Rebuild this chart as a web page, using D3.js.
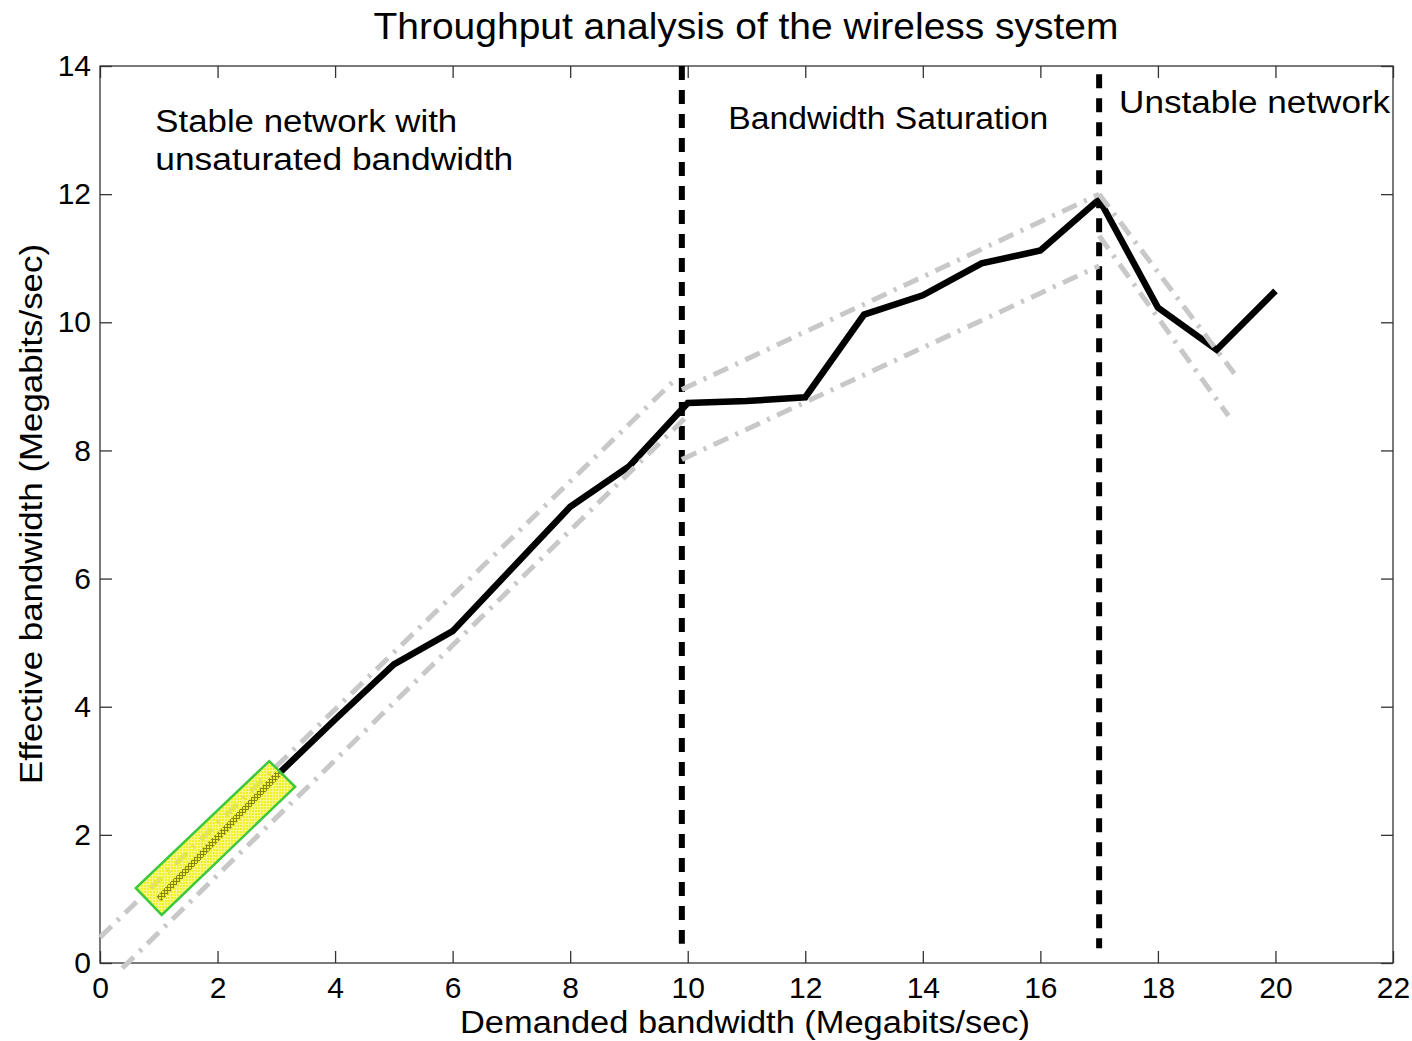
<!DOCTYPE html>
<html>
<head>
<meta charset="utf-8">
<script src="https://cdn.jsdelivr.net/npm/d3@7"></script>
<style>
  body { margin: 0; background: #fff; }
  text { font-family: "Liberation Sans", Arial, Helvetica, sans-serif; fill: #000; }
  .axis path.domain { display: none; }
  .axis line { stroke: #333; stroke-width: 1.3; }
</style>
</head>
<body>
<div id="app"></div>
<script>
// measured throughput (demanded vs effective, Mbit/s)
var demanded = [1, 2, 3, 4, 5, 6, 7, 8, 9, 10, 11, 12, 13, 14, 15, 16, 17, 18, 19, 20];
var effective = [1.0, 1.96, 2.92, 3.8, 4.66, 5.18, 6.15, 7.12, 7.75, 8.74,
                 8.77, 8.83, 10.12, 10.42, 10.92, 11.12, 11.92, 10.23, 9.57, 10.49];

// grey dash-dot envelope, one [x, y] pair list per segment
var upperBound = [
    [[0, 0.4], [9.78, 9.1]],
    [[9.9, 8.95], [17.0, 12.0]],
    [[17.0, 12.0], [19.3, 9.2]]
];
var lowerBound = [
    [[0.38, -0.08], [9.95, 8.5]],
    [[9.9, 7.86], [17.0, 10.88]],
    [[17.0, 11.35], [19.2, 8.54]]
];

// region separators
var separators = [
    {x: 9.9, y0: 0.3, y1: 14},
    {x: 17.0, y0: 0.23, y1: 13.87}
];

// highlighted start of the curve (corners in data units)
var highlight = [[0.61, 1.17], [1.05, 0.75], [3.32, 2.75], [2.88, 3.15]];

var xTicks = [0, 2, 4, 6, 8, 10, 12, 14, 16, 18, 20, 22];
var yTicks = [0, 2, 4, 6, 8, 10, 12, 14];

var regionLabels = [
    {x: 0.94, y: 12.97, text: "Stable network with", len: 302},
    {x: 0.94, y: 12.38, text: "unsaturated bandwidth", len: 358},
    {x: 10.69, y: 13.02, text: "Bandwidth Saturation", len: 320},
    {x: 17.34, y: 13.26, text: "Unstable network", len: 271}
];

var width = 1412,
    height = 1041;

var svg = d3.select("#app").append("svg")
    .attr("width", width)
    .attr("height", height);

var x = d3.scaleLinear().domain([0, 22]).range([100, 1393]);
var y = d3.scaleLinear().domain([0, 14]).range([963, 66]);

// crosshatched yellow for the highlight box: solid cells on a see-through grid
var defs = svg.append("defs");
var hatch = defs.append("pattern")
    .attr("id", "hatch")
    .attr("patternUnits", "userSpaceOnUse")
    .attr("width", 3)
    .attr("height", 3);
hatch.append("rect")
    .attr("width", 3)
    .attr("height", 3)
    .attr("fill", "#f0f028")
    .attr("fill-opacity", 0.55);
hatch.append("rect")
    .attr("width", 2)
    .attr("height", 2)
    .attr("fill", "#f0f028");

// axes (ticks point inward on all four sides)
svg.append("g")
    .attr("class", "axis")
    .attr("transform", "translate(0," + y(0) + ")")
    .call(d3.axisBottom(x).tickValues(xTicks).tickSizeInner(-12).tickSizeOuter(0).tickPadding(14));

svg.append("g")
    .attr("class", "axis")
    .attr("transform", "translate(0," + y(14) + ")")
    .call(d3.axisTop(x).tickValues(xTicks).tickSizeInner(-12).tickSizeOuter(0).tickFormat(""));

svg.append("g")
    .attr("class", "axis")
    .attr("transform", "translate(" + x(0) + ",0)")
    .call(d3.axisLeft(y).tickValues(yTicks).tickSizeInner(-12).tickSizeOuter(0).tickPadding(9));

svg.append("g")
    .attr("class", "axis")
    .attr("transform", "translate(" + x(22) + ",0)")
    .call(d3.axisRight(y).tickValues(yTicks).tickSizeInner(-12).tickSizeOuter(0).tickFormat(""));

svg.selectAll(".axis text")
    .style("font-size", "30px")
    .style("font-family", "'Liberation Sans', Arial, sans-serif")
    .attr("fill", "#000");

svg.append("rect")
    .attr("x", x(0))
    .attr("y", y(14))
    .attr("width", x(22) - x(0))
    .attr("height", y(0) - y(14))
    .attr("fill", "none")
    .attr("stroke", "#333")
    .attr("stroke-width", 1.3);

var line = d3.line()
    .x(function(d) { return x(d[0]); })
    .y(function(d) { return y(d[1]); });

// main curve
svg.append("path")
    .datum(d3.zip(demanded, effective))
    .attr("d", line)
    .attr("fill", "none")
    .attr("stroke", "#000")
    .attr("stroke-width", 6.5);

// separators
svg.selectAll(".sep")
    .data(separators)
    .enter().append("line")
    .attr("class", "sep")
    .attr("x1", function(d) { return x(d.x); })
    .attr("x2", function(d) { return x(d.x); })
    .attr("y1", function(d) { return y(d.y1); })
    .attr("y2", function(d) { return y(d.y0); })
    .attr("stroke", "#000")
    .attr("stroke-width", 6)
    .attr("stroke-dasharray", "14,10");

// envelope
svg.selectAll(".bound")
    .data(upperBound.concat(lowerBound))
    .enter().append("path")
    .attr("class", "bound")
    .attr("d", line)
    .attr("fill", "none")
    .attr("stroke", "#c8c8c8")
    .attr("stroke-width", 5)
    .attr("stroke-dasharray", "16,8,3,8");

// highlight box
svg.append("polygon")
    .attr("points", highlight.map(function(d) { return x(d[0]) + "," + y(d[1]); }).join(" "))
    .attr("fill", "url(#hatch)")
    .attr("stroke", "#3cc83c")
    .attr("stroke-width", 2.5);

// texts
svg.selectAll(".region")
    .data(regionLabels)
    .enter().append("text")
    .attr("class", "region")
    .attr("x", function(d) { return x(d.x); })
    .attr("y", function(d) { return y(d.y); })
    .attr("textLength", function(d) { return d.len; })
    .attr("lengthAdjust", "spacingAndGlyphs")
    .style("font-size", "31px")
    .text(function(d) { return d.text; });

svg.append("text")
    .attr("x", 746)
    .attr("y", 39)
    .attr("text-anchor", "middle")
    .attr("textLength", 745)
    .attr("lengthAdjust", "spacingAndGlyphs")
    .style("font-size", "37px")
    .text("Throughput analysis of the wireless system");

svg.append("text")
    .attr("x", 745)
    .attr("y", 1033)
    .attr("text-anchor", "middle")
    .attr("textLength", 570)
    .attr("lengthAdjust", "spacingAndGlyphs")
    .style("font-size", "31px")
    .text("Demanded bandwidth (Megabits/sec)");

svg.append("text")
    .attr("transform", "translate(42,514) rotate(-90)")
    .attr("text-anchor", "middle")
    .attr("textLength", 540)
    .attr("lengthAdjust", "spacingAndGlyphs")
    .style("font-size", "31px")
    .text("Effective bandwidth (Megabits/sec)");
</script>
</body>
</html>
